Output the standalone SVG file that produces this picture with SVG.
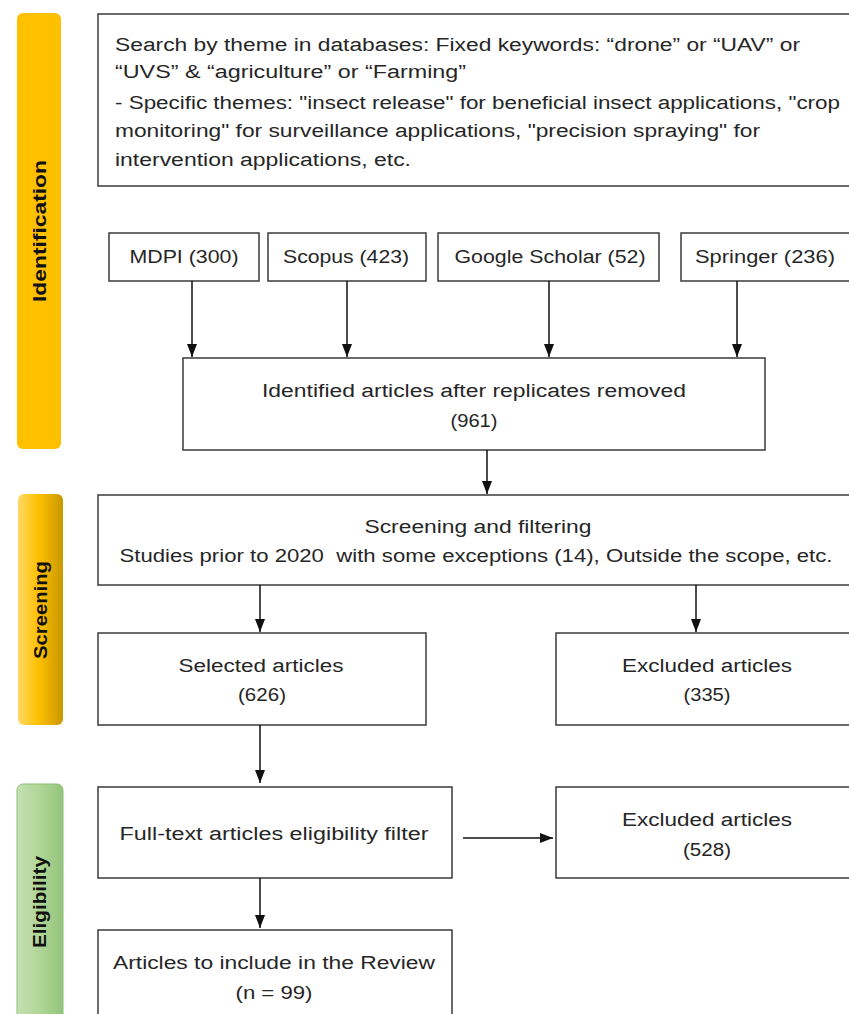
<svg xmlns="http://www.w3.org/2000/svg" width="849" height="1014" viewBox="0 0 849 1014">
<style>
.box{fill:#fff;stroke:#3a3a3a;stroke-width:1.5}
.t{font-family:"Liberation Sans",Arial,sans-serif;font-size:18px;fill:#262626}
.c{text-anchor:middle}
.lab{font-family:"Liberation Sans",Arial,sans-serif;font-size:18px;font-weight:bold;fill:#111;text-anchor:middle}
.con{stroke:#111;stroke-width:1.5;fill:none;marker-end:url(#ah)}
</style>
<defs>
<marker id="ah" viewBox="0 0 13 10" refX="13" refY="5" markerWidth="13" markerHeight="10" markerUnits="userSpaceOnUse" orient="auto">
<path d="M0,0 L13,5 L0,10 Z" fill="#111"/>
</marker>
<linearGradient id="gs" x1="0" y1="0" x2="1" y2="0">
<stop offset="0" stop-color="#FFD966"/>
<stop offset="0.45" stop-color="#FFC000"/>
<stop offset="1" stop-color="#C99700"/>
</linearGradient>
<linearGradient id="ge" x1="0" y1="0" x2="1" y2="0">
<stop offset="0" stop-color="#C5E0B4"/>
<stop offset="0.5" stop-color="#B0D595"/>
<stop offset="1" stop-color="#93C47D"/>
</linearGradient>
</defs>

<g id="phase-identification">
<rect x="17" y="13" width="44" height="436" rx="6" fill="#FFC000"/>
<text class="lab" transform="translate(46,231) rotate(-90)" textLength="142" lengthAdjust="spacingAndGlyphs">Identification</text>
</g>
<g id="phase-screening">
<rect x="18" y="494" width="45" height="231" rx="6" fill="url(#gs)"/>
<text class="lab" transform="translate(47,610) rotate(-90)" textLength="98" lengthAdjust="spacingAndGlyphs">Screening</text>
</g>
<g id="phase-eligibility">
<rect x="17" y="784" width="46" height="240" rx="6" fill="url(#ge)" stroke="#8DBF72" stroke-width="1"/>
<text class="lab" transform="translate(46,902) rotate(-90)" textLength="92" lengthAdjust="spacingAndGlyphs">Eligibility</text>
</g>

<g id="search">
<rect class="box" x="98" y="14" width="752" height="172"/>
<text class="t" x="115" y="51" textLength="685" lengthAdjust="spacingAndGlyphs">Search by theme in databases: Fixed keywords: “drone” or “UAV” or</text>
<text class="t" x="115" y="78" textLength="351" lengthAdjust="spacingAndGlyphs">“UVS” &amp; “agriculture” or “Farming”</text>
<text class="t" x="115" y="109" textLength="725" lengthAdjust="spacingAndGlyphs">- Specific themes: "insect release" for beneficial insect applications, "crop</text>
<text class="t" x="115" y="137" textLength="645" lengthAdjust="spacingAndGlyphs">monitoring" for surveillance applications, "precision spraying" for</text>
<text class="t" x="115" y="166" textLength="296" lengthAdjust="spacingAndGlyphs">intervention applications, etc.</text>
</g>

<g id="mdpi">
<rect class="box" x="109" y="233" width="150" height="48"/>
<text class="t c" x="184" y="263" textLength="109" lengthAdjust="spacingAndGlyphs">MDPI (300)</text>
</g>
<g id="scopus">
<rect class="box" x="268" y="233" width="158" height="48"/>
<text class="t c" x="346" y="263" textLength="126" lengthAdjust="spacingAndGlyphs">Scopus (423)</text>
</g>
<g id="scholar">
<rect class="box" x="438" y="233" width="221" height="48"/>
<text class="t c" x="550" y="263" textLength="191" lengthAdjust="spacingAndGlyphs">Google Scholar (52)</text>
</g>
<g id="springer">
<rect class="box" x="681" y="233" width="169" height="48"/>
<text class="t c" x="765" y="263" textLength="140" lengthAdjust="spacingAndGlyphs">Springer (236)</text>
</g>

<g id="identified">
<rect class="box" x="183" y="358" width="582" height="92"/>
<text class="t c" x="474" y="397" textLength="424" lengthAdjust="spacingAndGlyphs">Identified articles after replicates removed</text>
<text class="t c" x="474" y="427" textLength="47" lengthAdjust="spacingAndGlyphs">(961)</text>
</g>

<g id="screening">
<rect class="box" x="98" y="495" width="752" height="90"/>
<text class="t c" x="478" y="533" textLength="227" lengthAdjust="spacingAndGlyphs">Screening and filtering</text>
<text class="t c" x="476" y="562" textLength="713" lengthAdjust="spacingAndGlyphs" style="white-space:pre">Studies prior to 2020  with some exceptions (14), Outside the scope, etc.</text>
</g>

<g id="selected">
<rect class="box" x="98" y="633" width="328" height="92"/>
<text class="t c" x="261" y="672" textLength="165" lengthAdjust="spacingAndGlyphs">Selected articles</text>
<text class="t c" x="262" y="701" textLength="48" lengthAdjust="spacingAndGlyphs">(626)</text>
</g>
<g id="excluded1">
<rect class="box" x="556" y="633" width="294" height="92"/>
<text class="t c" x="707" y="672" textLength="170" lengthAdjust="spacingAndGlyphs">Excluded articles</text>
<text class="t c" x="707" y="701" textLength="47" lengthAdjust="spacingAndGlyphs">(335)</text>
</g>

<g id="fulltext">
<rect class="box" x="98" y="787" width="354" height="91"/>
<text class="t c" x="274" y="840" textLength="309" lengthAdjust="spacingAndGlyphs">Full-text articles eligibility filter</text>
</g>
<g id="excluded2">
<rect class="box" x="556" y="787" width="294" height="91"/>
<text class="t c" x="707" y="826" textLength="170" lengthAdjust="spacingAndGlyphs">Excluded articles</text>
<text class="t c" x="707" y="856" textLength="48" lengthAdjust="spacingAndGlyphs">(528)</text>
</g>

<g id="included">
<rect class="box" x="98" y="930" width="354" height="100"/>
<text class="t c" x="274" y="969" textLength="322" lengthAdjust="spacingAndGlyphs">Articles to include in the Review</text>
<text class="t c" x="274" y="999" textLength="77" lengthAdjust="spacingAndGlyphs">(n = 99)</text>
</g>

<g id="connectors">
<line class="con" x1="192" y1="281" x2="192" y2="357"/>
<line class="con" x1="347" y1="281" x2="347" y2="357"/>
<line class="con" x1="549" y1="281" x2="549" y2="357"/>
<line class="con" x1="737" y1="281" x2="737" y2="357"/>
<line class="con" x1="487" y1="450" x2="487" y2="494"/>
<line class="con" x1="260" y1="585" x2="260" y2="632"/>
<line class="con" x1="696" y1="585" x2="696" y2="632"/>
<line class="con" x1="260" y1="725" x2="260" y2="783"/>
<line class="con" x1="463" y1="838" x2="553" y2="838"/>
<line class="con" x1="260" y1="878" x2="260" y2="928"/>
</g>
</svg>
